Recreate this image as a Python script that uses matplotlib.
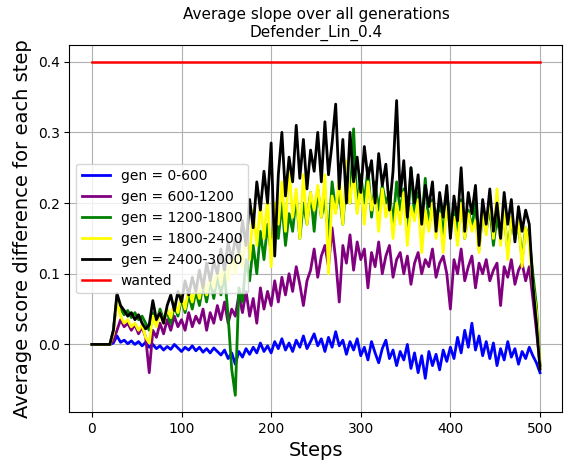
import numpy as np
import matplotlib
matplotlib.use("Agg")
import matplotlib.pyplot as plt

# Average per-step score slope, sampled every 4 steps (0 .. 500)
steps = np.arange(0, 501, 4)

gen_0_600 = [
    0, 0, 0, 0, 0, 0, 0.002, 0.012, 0.003, 0.006, 0.001, 0.005, 0.000, 0.004, -0.002, 0.003,
    -0.004, 0.000, -0.006, -0.002, -0.008, -0.003, -0.007, 0.000, -0.005, -0.010, -0.004, -0.008,
    -0.002, -0.009, -0.004, -0.011, -0.006, -0.012, -0.005, -0.010, -0.015, -0.008, -0.020, -0.012,
    -0.028, -0.010, -0.018, -0.006, -0.014, -0.004, -0.012, 0.002, -0.010, -0.002, -0.012, 0.004,
    -0.006, 0.008, -0.008, 0.002, -0.010, 0.006, -0.004, 0.012, -0.006, 0.004, 0.015, -0.002,
    0.008, -0.010, 0.010, -0.004, 0.018, -0.002, 0.006, -0.014, 0.004, -0.008, 0.008, -0.016,
    -0.004, -0.022, 0.004, -0.012, -0.026, -0.006, 0.006, -0.020, -0.008, -0.030, -0.010, -0.022,
    0.000, -0.034, -0.012, -0.040, -0.016, -0.048, -0.010, -0.030, -0.014, -0.036, -0.008, -0.024,
    -0.004, -0.020, 0.010, -0.012, 0.020, -0.004, 0.030, -0.008, 0.012, -0.016, 0.004, -0.020,
    0.002, -0.030, -0.006, -0.022, 0.004, -0.018, -0.006, -0.028, -0.010, -0.020, -0.004, -0.016,
    -0.026, -0.040,
]

gen_600_1200 = [
    0, 0, 0, 0, 0, 0, 0.005, 0.020, 0.035, 0.025, 0.030, 0.020, 0.028, 0.015, 0.025, 0.010,
    -0.040, 0.020, 0.010, 0.030, 0.015, 0.035, 0.020, 0.040, 0.025, 0.035, 0.020, 0.045,
    0.025, 0.040, 0.030, 0.050, 0.020, 0.045, 0.030, 0.055, 0.035, 0.060, 0.030, 0.050,
    0.040, 0.070, 0.045, 0.075, 0.040, 0.065, 0.030, 0.080, 0.050, 0.075, 0.055, 0.090,
    0.060, 0.095, 0.070, 0.100, 0.075, 0.110, 0.085, 0.055, 0.090, 0.105, 0.135, 0.095,
    0.125, 0.140, 0.110, 0.165, 0.120, 0.060, 0.140, 0.115, 0.155, 0.105, 0.145, 0.120,
    0.135, 0.080, 0.130, 0.110, 0.145, 0.100, 0.125, 0.140, 0.095, 0.120, 0.130, 0.100,
    0.125, 0.085, 0.115, 0.130, 0.100, 0.120, 0.110, 0.135, 0.095, 0.115, 0.125, 0.100,
    0.050, 0.120, 0.100, 0.135, 0.090, 0.110, 0.125, 0.080, 0.115, 0.100, 0.120, 0.090,
    0.105, 0.115, 0.055, 0.110, 0.095, 0.120, 0.085, 0.105, 0.115, 0.090, 0.110, 0.065,
    0.020, -0.030,
]

gen_1200_1800 = [
    0, 0, 0, 0, 0, 0, 0.020, 0.068, 0.050, 0.042, 0.048, 0.038, 0.045, 0.035, 0.040, 0.030,
    0.020, 0.045, 0.030, 0.050, 0.035, 0.045, 0.030, 0.055, 0.040, 0.065, 0.045, 0.070,
    0.050, 0.075, 0.055, 0.085, 0.060, 0.090, 0.065, 0.095, 0.070, 0.100, 0.040, -0.035,
    -0.072, 0.080, 0.060, 0.120, 0.090, 0.140, 0.100, 0.160, 0.120, 0.170, 0.130, 0.190,
    0.150, 0.200, 0.140, 0.185, 0.160, 0.210, 0.150, 0.200, 0.170, 0.215, 0.160, 0.220,
    0.180, 0.205, 0.150, 0.230, 0.190, 0.215, 0.170, 0.235, 0.200, 0.305, 0.190, 0.240,
    0.200, 0.250, 0.180, 0.230, 0.190, 0.225, 0.200, 0.215, 0.170, 0.230, 0.190, 0.220,
    0.160, 0.250, 0.180, 0.215, 0.175, 0.235, 0.165, 0.205, 0.180, 0.200, 0.150, 0.215,
    0.170, 0.190, 0.160, 0.205, 0.150, 0.190, 0.165, 0.200, 0.135, 0.185, 0.160, 0.195,
    0.140, 0.180, 0.150, 0.185, 0.130, 0.175, 0.150, 0.170, 0.120, 0.165, 0.150, 0.100,
    0.055, -0.030,
]

gen_1800_2400 = [
    0, 0, 0, 0, 0, 0, 0.015, 0.062, 0.040, 0.030, 0.035, 0.025, 0.030, 0.020, 0.028, 0.010,
    0.002, 0.040, 0.025, 0.045, 0.030, 0.050, 0.038, 0.060, 0.045, 0.070, 0.050, 0.080,
    0.060, 0.085, 0.065, 0.095, 0.070, 0.100, 0.080, 0.110, 0.085, 0.120, 0.090, 0.130,
    0.100, 0.140, 0.110, 0.160, 0.120, 0.190, 0.140, 0.200, 0.150, 0.210, 0.110, 0.200,
    0.170, 0.230, 0.160, 0.250, 0.180, 0.220, 0.150, 0.240, 0.170, 0.215, 0.190, 0.225,
    0.180, 0.240, 0.100, 0.210, 0.185, 0.235, 0.170, 0.260, 0.200, 0.245, 0.185, 0.225,
    0.170, 0.230, 0.190, 0.215, 0.160, 0.220, 0.180, 0.205, 0.150, 0.200, 0.170, 0.215,
    0.140, 0.195, 0.175, 0.205, 0.130, 0.190, 0.160, 0.200, 0.150, 0.185, 0.130, 0.195,
    0.165, 0.180, 0.140, 0.200, 0.150, 0.185, 0.160, 0.175, 0.130, 0.190, 0.155, 0.210,
    0.150, 0.220, 0.140, 0.190, 0.120, 0.180, 0.150, 0.175, 0.110, 0.165, 0.140, 0.085,
    0.045, -0.030,
]

gen_2400_3000 = [
    0, 0, 0, 0, 0, 0, 0.020, 0.072, 0.055, 0.048, 0.040, 0.045, 0.035, 0.042, 0.030, 0.022,
    0.028, 0.062, 0.035, 0.045, 0.030, 0.055, 0.070, 0.048, 0.075, 0.060, 0.090, 0.070,
    0.095, 0.075, 0.105, 0.080, 0.115, 0.090, 0.118, 0.100, 0.135, 0.105, 0.145, 0.120,
    0.150, 0.130, 0.175, 0.140, 0.205, 0.165, 0.230, 0.190, 0.245, 0.200, 0.285, 0.125,
    0.240, 0.300, 0.210, 0.265, 0.230, 0.310, 0.235, 0.290, 0.220, 0.275, 0.245, 0.300,
    0.230, 0.315, 0.240, 0.285, 0.340, 0.220, 0.290, 0.200, 0.300, 0.230, 0.265, 0.215,
    0.280, 0.235, 0.260, 0.200, 0.270, 0.225, 0.255, 0.190, 0.245, 0.345, 0.210, 0.260,
    0.180, 0.250, 0.200, 0.240, 0.170, 0.225, 0.195, 0.230, 0.160, 0.215, 0.180, 0.225,
    0.150, 0.210, 0.175, 0.250, 0.160, 0.215, 0.185, 0.225, 0.140, 0.205, 0.170, 0.220,
    0.160, 0.200, 0.150, 0.215, 0.170, 0.205, 0.145, 0.195, 0.160, 0.190, 0.170, 0.085,
    0.030, -0.035,
]

wanted_slope = 0.4

series = [
    ("gen = 0-600", gen_0_600, "blue"),
    ("gen = 600-1200", gen_600_1200, "purple"),
    ("gen = 1200-1800", gen_1200_1800, "green"),
    ("gen = 1800-2400", gen_1800_2400, "yellow"),
    ("gen = 2400-3000", gen_2400_3000, "black"),
]

fig = plt.figure(figsize=(5.64, 4.65), dpi=100)
ax = fig.add_axes([0.1232, 0.1140, 0.8740, 0.7892])

for label, values, color in series:
    ax.plot(steps, values, color=color, linewidth=2, label=label)
ax.plot(steps, np.full(len(steps), wanted_slope), color="red", linewidth=1.8,
        label="wanted")

ax.grid(True, color="#b0b0b0", linewidth=0.8)
ax.set_axisbelow(True)
ax.set_xticks([0, 100, 200, 300, 400, 500])
ax.set_yticks([0.0, 0.1, 0.2, 0.3, 0.4])
ax.tick_params(labelsize=10)

ax.set_title("Average slope over all generations\nDefender_Lin_0.4", fontsize=11)
ax.set_xlabel("Steps", fontsize=14)
ax.set_ylabel("Average score difference for each step", fontsize=14)
ax.legend(loc="center left", fontsize=10)

fig.savefig("out.png", dpi=100)
